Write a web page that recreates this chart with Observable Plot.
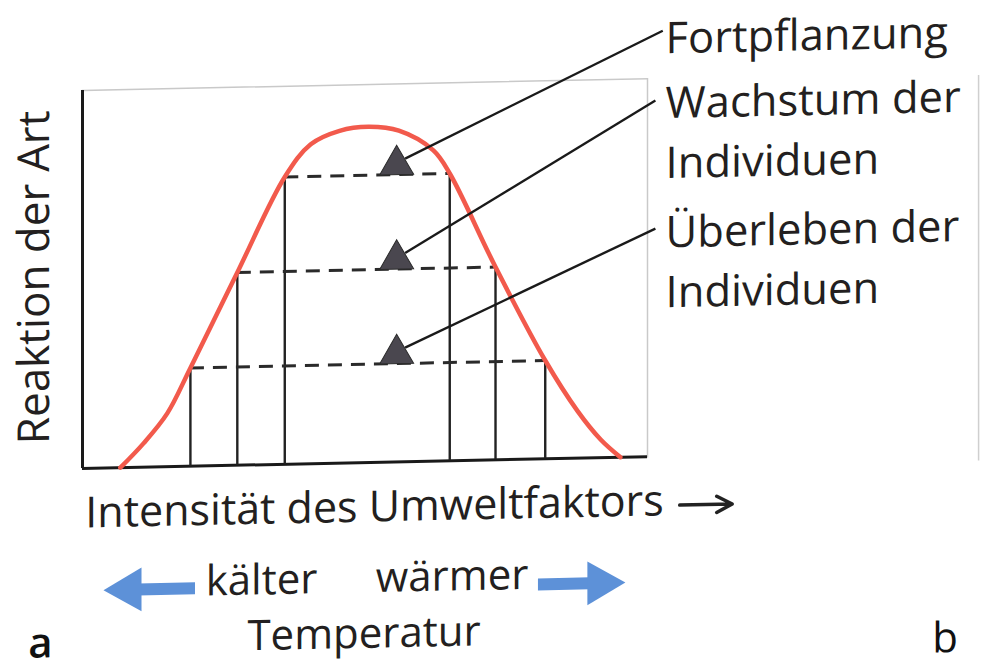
<!DOCTYPE html>
<html>
<head>
<meta charset="utf-8">
<script src="https://cdn.jsdelivr.net/npm/d3@7"></script>
<script src="https://cdn.jsdelivr.net/npm/@observablehq/plot@0.6"></script>
<style>
  html, body { margin: 0; padding: 0; background: #fff; }
  #chart svg { overflow: visible; transform: skewY(-1.2deg); transform-origin: 82px 0; }
</style>
</head>
<body>
<div id="chart"></div>
<script>
// ---- data ----
// response curve of the species (x: intensity of environmental factor, y: reaction)
const curveX = [6.7, 10.8, 15.0, 19.1, 27.4, 35.8, 40.4, 45.5, 50.6, 56.0, 62.1, 65.0, 73.1, 81.9, 87.6, 91.7, 95.2];
const curveY = [0, 6.3, 14.1, 26, 51, 76, 84.5, 87.9, 88.8, 87.6, 82.2, 76, 51, 26, 12.5, 4.8, 0];

// tolerance ranges for the three life processes
const processes = ["Fortpflanzung", "Wachstum der\nIndividuen", "Überleben der\nIndividuen"];
const rangeLow  = [35.8, 27.4, 19.1];
const rangeHigh = [65.0, 73.1, 81.9];
const levels    = [76, 51, 26];
const markerX   = [55.6, 55.6, 55.6];

// texts
const yTitle = "Reaktion der Art";
const xTitle = "Intensität des Umweltfaktors";
const colderLabel = "kälter";
const warmerLabel = "wärmer";
const factorLabel = "Temperatur";
const panelA = "a";
const panelB = "b";

// ---- layout of annotations (data units) ----
const layout = {
  labelX: 103.2, labelY: [106.6, 73.6, 39.4],
  leaderX: [102.7, 101.4, 101.4], leaderY: [112.6, 94.2, 60.3],
  leaderStartDx: 1.5, leaderStartDy: 4.2,
  yTitle: {x: -6, y: 50.8},
  xTitle: {x: 0.5, y: -15.6}, xArrow: {x1: 105.7, x2: 115, y: -13},
  colder: {x: 21.8, y: -34.3}, warmer: {x: 51.9, y: -34.3},
  factor: {x: 29.2, y: -49},
  a: {x: -9.6, y: -49.8}, b: {x: 150.4, y: -53.4},
  leftArrow: {x1: 9.9, x2: 20.0, head: 8.2, y: -32.3},
  rightArrow: {x1: 80.7, x2: 89.9, head: 91.6, y: -33.2},
  pageEdge: {x: 158.6, y1: -3, y2: 99}
};

const curve = curveX.map((x, i) => ({x, y: curveY[i]}));
const tol = processes.map((p, i) => ({
  label: p, low: rangeLow[i], high: rangeHigh[i], level: levels[i], mx: markerX[i], i
}));
const verticals = tol.flatMap(d => [{x: d.low, level: d.level}, {x: d.high, level: d.level}]);

const ink = "#231f20";
const blue = "#5d91d8";
const FS = 43.5;
const FS_SMALL = 42;

const chart = Plot.plot({
  width: 981, height: 668,
  marginLeft: 82, marginRight: 334, marginTop: 90, marginBottom: 200,
  x: {domain: [0, 100], axis: null},
  y: {domain: [0, 100], axis: null},
  style: {fontFamily: "'Open Sans', sans-serif", background: "#fff", overflow: "visible"},
  marks: [
    // light frame and faint page edge
    Plot.frame({stroke: "#c9c9c9", strokeWidth: 1.5}),
    Plot.ruleX([layout.pageEdge.x], {y1: layout.pageEdge.y1, y2: layout.pageEdge.y2, stroke: "#cfcfcf", strokeWidth: 1.5, clip: false}),
    // axes
    Plot.ruleY([0], {stroke: "#1a1a1a", strokeWidth: 3}),
    Plot.ruleX([0], {stroke: "#1a1a1a", strokeWidth: 3}),
    // vertical range bounds
    Plot.ruleX(verticals, {x: "x", y1: 0, y2: "level", stroke: "#222", strokeWidth: 2.4}),
    // dashed levels
    Plot.ruleY(tol, {y: "level", x1: "low", x2: "high", stroke: "#2a2a2a", strokeWidth: 3, strokeDasharray: "14,9"}),
    // response curve
    Plot.line(curve, {x: "x", y: "y", curve: "catmull-rom", stroke: "#f25a4c", strokeWidth: 4.5}),
    // leader lines
    Plot.link(tol, {
      x1: d => d.mx + layout.leaderStartDx, y1: d => d.level + layout.leaderStartDy,
      x2: d => layout.leaderX[d.i], y2: d => layout.leaderY[d.i],
      stroke: "#1a1a1a", strokeWidth: 2.4, clip: false
    }),
    // triangle markers
    Plot.dot(tol, {x: "mx", y: "level", symbol: "triangle", r: 12.6, dy: -9.8, fill: "#4a474f", stroke: "#2b2b2b", strokeWidth: 1}),
    // labels
    Plot.text(tol, {
      x: () => layout.labelX, y: d => layout.labelY[d.i], text: "label",
      textAnchor: "start", lineAnchor: "bottom", lineHeight: 1.38, fontSize: FS, fill: ink, clip: false
    }),
    // axis titles
    Plot.text([yTitle], {x: () => layout.yTitle.x, y: () => layout.yTitle.y, text: d => d, rotate: -90,
      textAnchor: "middle", lineAnchor: "bottom", fontSize: 44, fill: ink}),
    Plot.text([xTitle], {x: () => layout.xTitle.x, y: () => layout.xTitle.y, text: d => d,
      textAnchor: "start", lineAnchor: "bottom", fontSize: 43, fill: ink}),
    Plot.arrow([0], {x1: layout.xArrow.x1, x2: layout.xArrow.x2, y1: layout.xArrow.y, y2: layout.xArrow.y,
      stroke: "#222", strokeWidth: 3.5, headLength: 10, headAngle: 55}),
    // temperature direction
    Plot.ruleY([layout.leftArrow.y], {x1: layout.leftArrow.x1, x2: layout.leftArrow.x2, stroke: blue, strokeWidth: 12}),
    Plot.dot([0], {x: () => layout.leftArrow.head, y: () => layout.leftArrow.y, symbol: "triangle", r: 16.3, rotate: -90, fill: blue}),
    Plot.ruleY([layout.rightArrow.y], {x1: layout.rightArrow.x1, x2: layout.rightArrow.x2, stroke: blue, strokeWidth: 12}),
    Plot.dot([0], {x: () => layout.rightArrow.head, y: () => layout.rightArrow.y, symbol: "triangle", r: 16.3, rotate: 90, fill: blue}),
    Plot.text([colderLabel], {x: () => layout.colder.x, y: () => layout.colder.y, text: d => d,
      textAnchor: "start", lineAnchor: "bottom", fontSize: FS_SMALL, fill: ink}),
    Plot.text([warmerLabel], {x: () => layout.warmer.x, y: () => layout.warmer.y, text: d => d,
      textAnchor: "start", lineAnchor: "bottom", fontSize: FS_SMALL, fill: ink}),
    Plot.text([factorLabel], {x: () => layout.factor.x, y: () => layout.factor.y, text: d => d,
      textAnchor: "start", lineAnchor: "bottom", fontSize: FS_SMALL, fill: ink}),
    Plot.text([panelA], {x: () => layout.a.x, y: () => layout.a.y, text: d => d,
      textAnchor: "start", lineAnchor: "bottom", fontSize: FS_SMALL, fontWeight: 600, fill: "#111"}),
    Plot.text([panelB], {x: () => layout.b.x, y: () => layout.b.y, text: d => d,
      textAnchor: "start", lineAnchor: "bottom", fontSize: FS_SMALL, fill: "#111"})
  ]
});
document.getElementById("chart").append(chart);
</script>
</body>
</html>
